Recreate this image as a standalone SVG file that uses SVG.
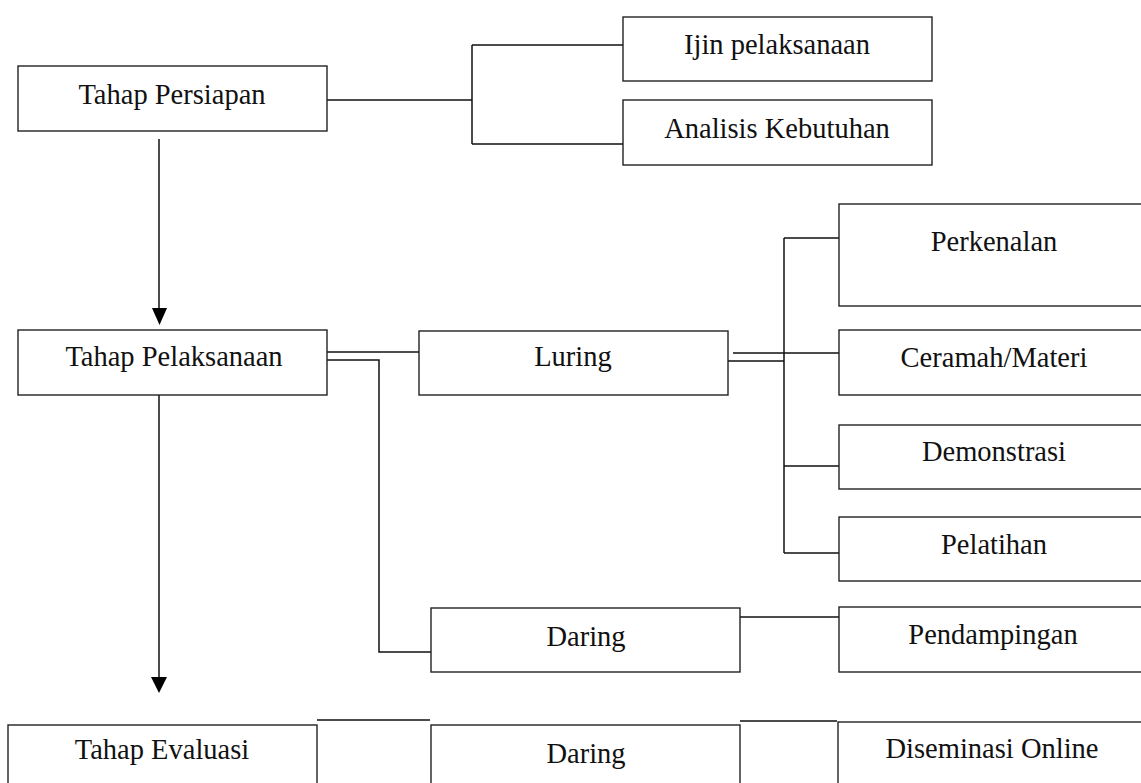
<svg xmlns="http://www.w3.org/2000/svg" width="1141" height="783" viewBox="0 0 1141 783">
<style>
.box{fill:#fff;stroke:#222;stroke-width:1.4}
.lbl{font-family:"Liberation Serif","Times New Roman",serif;font-size:28.5px;fill:#111;text-anchor:middle}
.con{fill:none;stroke:#111;stroke-width:1.5}
.head{fill:#000}
</style>
<rect width="1141" height="783" fill="#fff"/>
<g id="connectors">
<path class="con" d="M327,100 H472 M472,45 V144 M472,45 H623 M472,144 H623"/>
<path class="con" d="M159,139 V310"/>
<polygon class="head" points="152,308 167,308 159.5,325"/>
<path class="con" d="M327,352 H419"/>
<path class="con" d="M327,360 H379 V652 H431"/>
<path class="con" d="M159,385 V679"/>
<polygon class="head" points="151,677 167,677 159,693"/>
<path class="con" d="M733,353 H839 M728,361 H784 M784,238 V553 M784,238 H839 M784,466 H839 M784,553 H839"/>
<path class="con" d="M740,617 H839"/>
<path class="con" d="M317,720 H430 M740,721 H837"/>
</g>
<g id="tahap-persiapan"><rect class="box" x="18" y="66" width="309" height="65"/><text class="lbl" x="172" y="104">Tahap Persiapan</text></g>
<g id="ijin"><rect class="box" x="623" y="17" width="309" height="64"/><text class="lbl" x="777" y="54">Ijin pelaksanaan</text></g>
<g id="analisis"><rect class="box" x="623" y="100" width="309" height="65"/><text class="lbl" x="777" y="138">Analisis Kebutuhan</text></g>
<g id="tahap-pelaksanaan"><rect class="box" x="18" y="330" width="309" height="65"/><text class="lbl" x="174" y="366">Tahap Pelaksanaan</text></g>
<g id="luring"><rect class="box" x="419" y="331" width="309" height="64"/><text class="lbl" x="573" y="366">Luring</text></g>
<g id="perkenalan"><rect class="box" x="839" y="204" width="320" height="102"/><text class="lbl" x="994" y="251">Perkenalan</text></g>
<g id="ceramah"><rect class="box" x="839" y="330" width="320" height="65"/><text class="lbl" x="994" y="367">Ceramah/Materi</text></g>
<g id="demonstrasi"><rect class="box" x="839" y="425" width="320" height="64"/><text class="lbl" x="994" y="461">Demonstrasi</text></g>
<g id="pelatihan"><rect class="box" x="839" y="517" width="320" height="64"/><text class="lbl" x="994" y="554">Pelatihan</text></g>
<g id="daring"><rect class="box" x="431" y="608" width="309" height="64"/><text class="lbl" x="586" y="646">Daring</text></g>
<g id="pendampingan"><rect class="box" x="839" y="607" width="320" height="65"/><text class="lbl" x="993" y="644">Pendampingan</text></g>
<g id="tahap-evaluasi"><rect class="box" x="8" y="725" width="309" height="80"/><text class="lbl" x="162" y="759">Tahap Evaluasi</text></g>
<g id="daring-evaluasi"><rect class="box" x="431" y="725" width="309" height="80"/><text class="lbl" x="586" y="763">Daring</text></g>
<g id="diseminasi"><rect class="box" x="838" y="722" width="320" height="80"/><text class="lbl" x="992" y="758">Diseminasi Online</text></g>
</svg>
